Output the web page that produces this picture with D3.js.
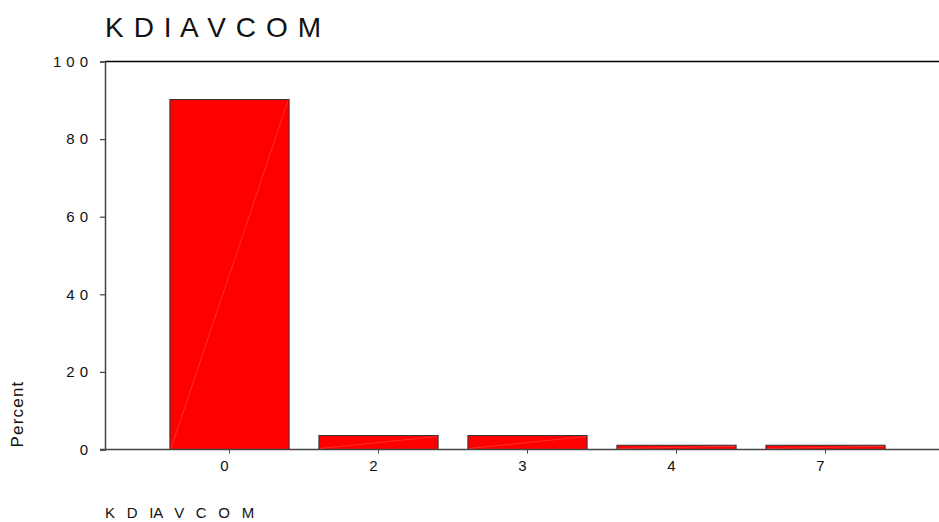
<!DOCTYPE html>
<html>
<head>
<meta charset="utf-8">
<script src="https://cdn.jsdelivr.net/npm/d3@7"></script>
<style>
  html, body { margin: 0; padding: 0; background: #fff; }
  svg { display: block; font-family: "Liberation Sans", Arial, sans-serif; }
</style>
</head>
<body>
<svg id="chart" width="939" height="522"></svg>
<script>
const categories = ["0", "2", "3", "4", "7"];
const percents = [90.2, 3.6, 3.6, 1.1, 1.1];
const yTicks = [0, 20, 40, 60, 80, 100];
const titleText = "K D I A V C O M";
const xAxisTitle = "K D IA V C O M";
const yAxisTitle = "Percent";

const svg = d3.select("#chart");

const x = d3.scaleBand().domain(categories).range([155, 900]).paddingInner(0.2).paddingOuter(0.1);
const y = d3.scaleLinear().domain([0, 100]).range([449.5, 61.5]);

const left = 105, right = 939;

// title
svg.append("text").attr("x", 105).attr("y", 37)
  .attr("font-size", 28).attr("fill", "#111").style("word-spacing", "2.2px")
  .text(titleText);

// top frame line
svg.append("line").attr("x1", left).attr("x2", right)
  .attr("y1", y(100)).attr("y2", y(100)).attr("stroke", "#000").attr("stroke-width", 1.5);

// bars
const bars = svg.append("g");
bars.selectAll("rect").data(categories).join("rect")
  .attr("x", d => x(d))
  .attr("y", (d, i) => y(percents[i]))
  .attr("width", x.bandwidth())
  .attr("height", (d, i) => y(0) - y(percents[i]))
  .attr("fill", "#ff0000").attr("stroke", "#333").attr("stroke-width", 1);
bars.selectAll("line").data(categories).join("line")
  .attr("x1", d => x(d) + 1).attr("y1", y(0) - 1)
  .attr("x2", d => x(d) + x.bandwidth() - 1).attr("y2", (d, i) => y(percents[i]) + 1)
  .attr("stroke", "#ff7070").attr("stroke-width", 0.6).attr("opacity", 0.7);

// y axis
const yAxis = svg.append("g").attr("transform", `translate(${left},0)`)
  .call(d3.axisLeft(y).tickValues(yTicks).tickSize(5).tickPadding(12)
    .tickFormat(d => String(d)));
yAxis.select(".domain").attr("stroke", "#444").attr("stroke-width", 1.5);
yAxis.selectAll(".tick line").attr("stroke", "#444").attr("stroke-width", 1.2);
yAxis.selectAll(".tick text").attr("font-size", 15).attr("fill", "#111")
  .attr("font-family", "Liberation Sans, Arial, sans-serif")
  .style("letter-spacing", "5px").attr("dx", "5px");

// x axis line
svg.append("line").attr("x1", 100).attr("x2", right)
  .attr("y1", y(0)).attr("y2", y(0)).attr("stroke", "#444").attr("stroke-width", 1.5);
const xAxis = svg.append("g").attr("transform", `translate(0,${y(0)})`)
  .call(d3.axisBottom(x).tickSize(4).tickPadding(7).tickSizeOuter(0));
xAxis.select(".domain").remove();
xAxis.selectAll(".tick line").attr("stroke", "#444");
xAxis.selectAll(".tick text").attr("font-size", 15).attr("fill", "#111")
  .attr("font-family", "Liberation Sans, Arial, sans-serif").attr("dx", "-5px");

// axis titles
svg.append("text").attr("transform", "translate(23,414) rotate(-90)")
  .attr("text-anchor", "middle").attr("font-size", 17).attr("fill", "#111")
  .style("letter-spacing", "1.2px").text(yAxisTitle);
svg.append("text").attr("x", 105).attr("y", 518)
  .attr("font-size", 15).attr("fill", "#111").style("word-spacing", "7.5px")
  .text(xAxisTitle);
</script>
</body>
</html>
